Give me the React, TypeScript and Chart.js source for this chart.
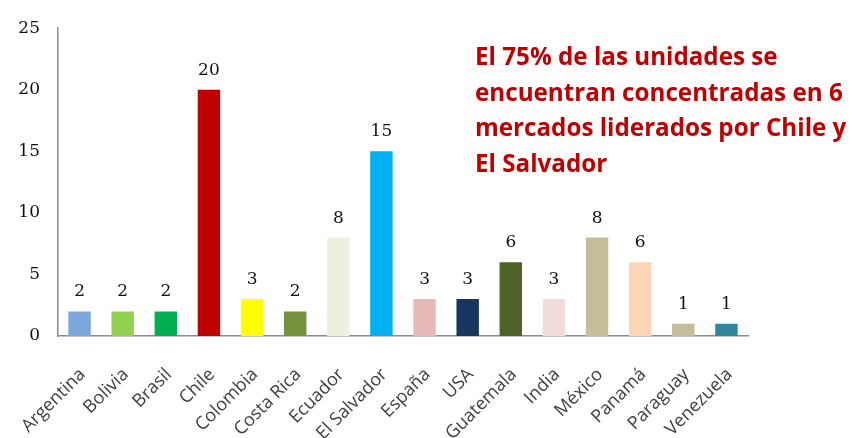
import React, { useEffect, useRef } from "react";
import { Chart, registerables } from "chart.js";

Chart.register(...registerables);

const categories = [
  "Argentina", "Bolivia", "Brasil", "Chile", "Colombia", "Costa Rica", "Ecuador",
  "El Salvador", "España", "USA", "Guatemala", "India", "México", "Panamá",
  "Paraguay", "Venezuela",
];
const unidades = [2, 2, 2, 20, 3, 2, 8, 15, 3, 3, 6, 3, 8, 6, 1, 1];
const barColors = [
  "#7BA7DC", "#92D050", "#00B050", "#C00000", "#FFFF00", "#76923C", "#EBF1DE",
  "#00B0F0", "#E6B9B8", "#17375E", "#4F6228", "#F2DCDB", "#C4BD97", "#FCD5B5",
  "#C4BD97", "#31859C",
];
const yTicks = [0, 5, 10, 15, 20, 25];
const noteLines = [
  "El 75% de las unidades se",
  "encuentran concentradas en 6",
  "mercados liderados por Chile y",
  "El Salvador",
];

const valueLabels = {
  id: "valueLabels",
  afterDatasetsDraw(chart: any) {
    const ctx = chart.ctx;
    const meta = chart.getDatasetMeta(0);
    ctx.save();
    ctx.font = "17px 'DejaVu Serif'";
    ctx.fillStyle = "#111";
    ctx.textAlign = "center";
    ctx.textBaseline = "alphabetic";
    meta.data.forEach((bar: any, i: number) => {
      ctx.fillText(String(unidades[i]), bar.x, bar.y - 15);
    });
    ctx.restore();
  },
};

const note = {
  id: "note",
  afterDraw(chart: any) {
    const ctx = chart.ctx;
    ctx.save();
    ctx.font = "bold 24px 'Open Sans'";
    const w = ctx.measureText(noteLines[1]).width;
    const size = 24 * (368 / w);
    ctx.font = `bold ${size}px 'Open Sans'`;
    ctx.fillStyle = "#C00000";
    ctx.textAlign = "left";
    ctx.textBaseline = "alphabetic";
    noteLines.forEach((line, i) => {
      ctx.fillText(line, 475, 65 + i * 35.7);
    });
    ctx.restore();
  },
};

export default function App() {
  const ref = useRef<HTMLCanvasElement | null>(null);
  useEffect(() => {
    if (!ref.current) return;
    const chart = new Chart(ref.current, {
      type: "bar",
      data: {
        labels: categories,
        datasets: [
          {
            data: unidades,
            backgroundColor: barColors,
            borderWidth: 0,
            barPercentage: 0.52,
            categoryPercentage: 1,
          },
        ],
      },
      options: {
        animation: false,
        responsive: true,
        maintainAspectRatio: false,
        layout: { padding: { top: 25, right: 104, left: 0, bottom: 0 } },
        plugins: { legend: { display: false }, tooltip: { enabled: false } },
        scales: {
          x: {
            grid: { display: false, drawTicks: false },
            border: { display: true, color: "#8c8c8c", width: 1.5 },
            ticks: {
              autoSkip: false,
              maxRotation: 45,
              minRotation: 45,
              padding: 28,
              labelOffset: 3,
              color: "#404040",
              font: { family: "Open Sans", size: 18 },
            },
            afterFit(scale: any) {
              scale.height = 102;
              scale.paddingLeft = 0;
              scale.paddingRight = 0;
            },
          },
          y: {
            min: 0,
            max: 25,
            grid: { display: false, drawTicks: false },
            border: { display: true, color: "#8c8c8c", width: 1.5 },
            afterBuildTicks(scale: any) {
              scale.ticks = yTicks.map((v) => ({ value: v }));
            },
            ticks: {
              padding: 18,
              color: "#111",
              font: { family: "DejaVu Serif", size: 17 },
            },
            afterFit(scale: any) {
              scale.width = 58;
            },
          },
        },
      },
      plugins: [valueLabels, note],
    });
    return () => chart.destroy();
  }, []);
  return (
    <div style={{ position: "fixed", left: 0, top: 0, width: 852, height: 438, background: "#fff" }}>
      <canvas ref={ref} />
    </div>
  );
}
